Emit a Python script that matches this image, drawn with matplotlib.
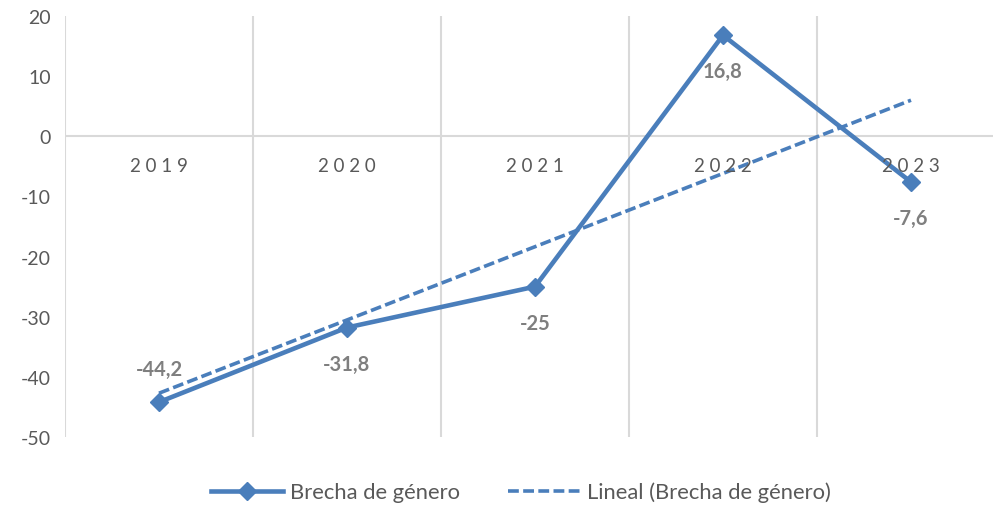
import numpy as np
import matplotlib as mpl
import matplotlib.pyplot as plt

mpl.use('Agg')

years = ['2019', '2020', '2021', '2022', '2023']
brecha = [-44.2, -31.8, -25, 16.8, -7.6]
label_text = ['-44,2', '-31,8', '-25', '16,8', '-7,6']
label_above = [True, False, False, False, False]

plt.rcParams['font.family'] = ['Lato', 'DejaVu Sans']
plt.rcParams['axes.unicode_minus'] = False

blue = '#4a7ebb'
grey = '#595959'
grid_c = '#d9d9d9'

fig = plt.figure(figsize=(9.93, 5.06), dpi=100)
ax = fig.add_axes([65 / 993, 68 / 506, 940 / 993, 421 / 506])

x = np.arange(len(years))
ax.set_xlim(-0.5, len(years) - 0.5)
ax.set_ylim(-50, 20)

# grid: vertical lines between categories, plus the zero line
for b in np.arange(-0.5, len(years) - 0.5, 1.0):
    ax.axvline(b, color=grid_c, lw=1.5, zorder=1)
ax.axhline(0, color=grid_c, lw=1.5, zorder=1)

# linear trend (like excel's "Lineal")
k, c = np.polyfit(x + 1, brecha, 1)
trend = k * (x + 1) + c
ax.plot(x, trend, color=blue, lw=2.6, ls=(0, (3, 1.2)), zorder=2,
        label='Lineal (Brecha de género)')

ax.plot(x, brecha, color=blue, lw=3.3, marker='D', markersize=9, zorder=3,
        label='Brecha de género')

for xi, v, t, up in zip(x, brecha, label_text, label_above):
    ax.annotate(t, (xi, v), xytext=(0, 24 if up else -26), textcoords='offset points',
                ha='center', va='center', fontsize=14.5, fontweight='bold', color='#7f7f7f')

# category labels sit under the zero line
for xi, yr in zip(x, years):
    ax.annotate(' '.join(yr), (xi, 0), xytext=(0, -21), textcoords='offset points',
                ha='center', va='center', fontsize=13.5, color=grey)

ax.set_xticks([])
ax.set_yticks(np.arange(-50, 21, 10))
ax.tick_params(axis='y', length=0, pad=10, labelsize=14, labelcolor=grey)
for s in ax.spines.values():
    s.set_visible(False)

h, l = ax.get_legend_handles_labels()
fig.legend(h[::-1], l[::-1], loc='center', bbox_to_anchor=(521 / 993, 1 - 493 / 506),
           ncol=2, frameon=False, fontsize=15.8, labelcolor=grey, handlelength=3.3,
           columnspacing=2.2, handletextpad=0.3)

fig.savefig('out.png', dpi=100)
